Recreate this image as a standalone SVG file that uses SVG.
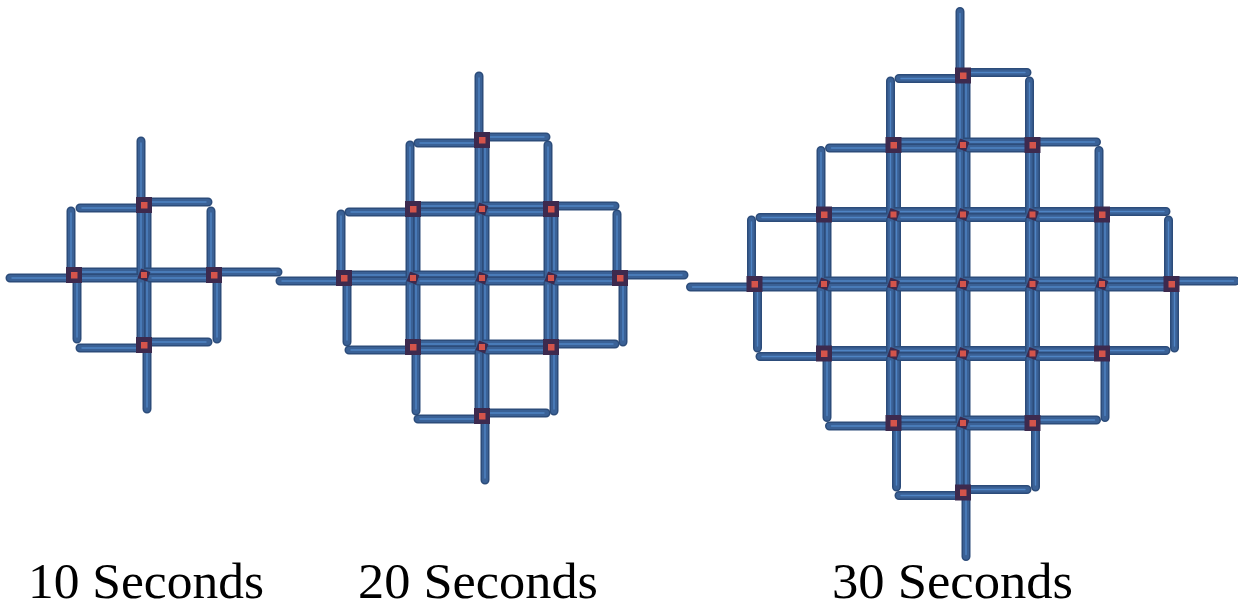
<svg xmlns="http://www.w3.org/2000/svg" width="1238" height="610" viewBox="0 0 1238 610">
<style>
.bar{fill:none;stroke:#2c4c7a;stroke-width:9;stroke-linecap:round}
.bar2{fill:none;stroke:#3a6196;stroke-width:6;stroke-linecap:round}
.str{fill:none;stroke:#4f84c4;stroke-width:1.4;stroke-linecap:round}
.dk{fill:#3d2a4e}
.rd{fill:#d4544b}
.lbl{font-family:"Liberation Serif","Times New Roman",serif;font-size:51px;fill:#000}
</style>
<defs>
<g id="arms">
<path class="bar" d="M-3,0V-64M0,-3H64M3,0V64M0,3H-64"/>
<path class="bar2" d="M-3,0V-64M0,-3H64M3,0V64M0,3H-64"/>
<path class="str" d="M-3,-2V-62M2,-3H62M3,2V62M-2,3H-62"/>
</g>
<g id="outer"><rect class="dk" x="-8" y="-8" width="16" height="16"/><rect class="rd" x="-3" y="-3" width="6.5" height="6.5"/></g>
<g id="inner"><rect class="dk" x="-5" y="-5" width="10" height="10" transform="rotate(20)"/><rect class="rd" x="-3" y="-3" width="6" height="6"/></g>
</defs>
<rect width="1238" height="610" fill="#fff"/>
<g id="connectors">
<use href="#arms" x="144" y="205"/>
<use href="#arms" x="74" y="275"/>
<use href="#arms" x="144" y="275"/>
<use href="#arms" x="214" y="275"/>
<use href="#arms" x="144" y="345"/>

<use href="#arms" x="482" y="140"/>
<use href="#arms" x="413" y="209"/>
<use href="#arms" x="482" y="209"/>
<use href="#arms" x="551" y="209"/>
<use href="#arms" x="344" y="278"/>
<use href="#arms" x="413" y="278"/>
<use href="#arms" x="482" y="278"/>
<use href="#arms" x="551" y="278"/>
<use href="#arms" x="620" y="278"/>
<use href="#arms" x="413" y="347"/>
<use href="#arms" x="482" y="347"/>
<use href="#arms" x="551" y="347"/>
<use href="#arms" x="482" y="416"/>

<use href="#arms" x="963" y="75.5"/>
<use href="#arms" x="893.5" y="145"/>
<use href="#arms" x="963" y="145"/>
<use href="#arms" x="1032.5" y="145"/>
<use href="#arms" x="824" y="214.5"/>
<use href="#arms" x="893.5" y="214.5"/>
<use href="#arms" x="963" y="214.5"/>
<use href="#arms" x="1032.5" y="214.5"/>
<use href="#arms" x="1102" y="214.5"/>
<use href="#arms" x="754.5" y="284"/>
<use href="#arms" x="824" y="284"/>
<use href="#arms" x="893.5" y="284"/>
<use href="#arms" x="963" y="284"/>
<use href="#arms" x="1032.5" y="284"/>
<use href="#arms" x="1102" y="284"/>
<use href="#arms" x="1171.5" y="284"/>
<use href="#arms" x="824" y="353.5"/>
<use href="#arms" x="893.5" y="353.5"/>
<use href="#arms" x="963" y="353.5"/>
<use href="#arms" x="1032.5" y="353.5"/>
<use href="#arms" x="1102" y="353.5"/>
<use href="#arms" x="893.5" y="423"/>
<use href="#arms" x="963" y="423"/>
<use href="#arms" x="1032.5" y="423"/>
<use href="#arms" x="963" y="492.5"/>
</g>
<g id="n10-t"><use href="#outer" x="144" y="205"/></g>
<g id="n10-l"><use href="#outer" x="74" y="275"/></g>
<g id="n10-c"><use href="#inner" x="144" y="275"/></g>
<g id="n10-r"><use href="#outer" x="214" y="275"/></g>
<g id="n10-b"><use href="#outer" x="144" y="345"/></g>

<g id="n20-1"><use href="#outer" x="482" y="140"/></g>
<g id="n20-2"><use href="#outer" x="413" y="209"/></g>
<g id="n20-3"><use href="#inner" x="482" y="209"/></g>
<g id="n20-4"><use href="#outer" x="551" y="209"/></g>
<g id="n20-5"><use href="#outer" x="344" y="278"/></g>
<g id="n20-6"><use href="#inner" x="413" y="278"/></g>
<g id="n20-7"><use href="#inner" x="482" y="278"/></g>
<g id="n20-8"><use href="#inner" x="551" y="278"/></g>
<g id="n20-9"><use href="#outer" x="620" y="278"/></g>
<g id="n20-10"><use href="#outer" x="413" y="347"/></g>
<g id="n20-11"><use href="#inner" x="482" y="347"/></g>
<g id="n20-12"><use href="#outer" x="551" y="347"/></g>
<g id="n20-13"><use href="#outer" x="482" y="416"/></g>

<g id="n30-1"><use href="#outer" x="963" y="75.5"/></g>
<g id="n30-2"><use href="#outer" x="893.5" y="145"/></g>
<g id="n30-3"><use href="#inner" x="963" y="145"/></g>
<g id="n30-4"><use href="#outer" x="1032.5" y="145"/></g>
<g id="n30-5"><use href="#outer" x="824" y="214.5"/></g>
<g id="n30-6"><use href="#inner" x="893.5" y="214.5"/></g>
<g id="n30-7"><use href="#inner" x="963" y="214.5"/></g>
<g id="n30-8"><use href="#inner" x="1032.5" y="214.5"/></g>
<g id="n30-9"><use href="#outer" x="1102" y="214.5"/></g>
<g id="n30-10"><use href="#outer" x="754.5" y="284"/></g>
<g id="n30-11"><use href="#inner" x="824" y="284"/></g>
<g id="n30-12"><use href="#inner" x="893.5" y="284"/></g>
<g id="n30-13"><use href="#inner" x="963" y="284"/></g>
<g id="n30-14"><use href="#inner" x="1032.5" y="284"/></g>
<g id="n30-15"><use href="#inner" x="1102" y="284"/></g>
<g id="n30-16"><use href="#outer" x="1171.5" y="284"/></g>
<g id="n30-17"><use href="#outer" x="824" y="353.5"/></g>
<g id="n30-18"><use href="#inner" x="893.5" y="353.5"/></g>
<g id="n30-19"><use href="#inner" x="963" y="353.5"/></g>
<g id="n30-20"><use href="#inner" x="1032.5" y="353.5"/></g>
<g id="n30-21"><use href="#outer" x="1102" y="353.5"/></g>
<g id="n30-22"><use href="#outer" x="893.5" y="423"/></g>
<g id="n30-23"><use href="#inner" x="963" y="423"/></g>
<g id="n30-24"><use href="#outer" x="1032.5" y="423"/></g>
<g id="n30-25"><use href="#outer" x="963" y="492.5"/></g>

<g id="labels">
<text class="lbl" x="28" y="598" textLength="236" lengthAdjust="spacingAndGlyphs">10 Seconds</text>
<text class="lbl" x="358" y="598" textLength="240" lengthAdjust="spacingAndGlyphs">20 Seconds</text>
<text class="lbl" x="832" y="598" textLength="241" lengthAdjust="spacingAndGlyphs">30 Seconds</text>
</g>
</svg>
